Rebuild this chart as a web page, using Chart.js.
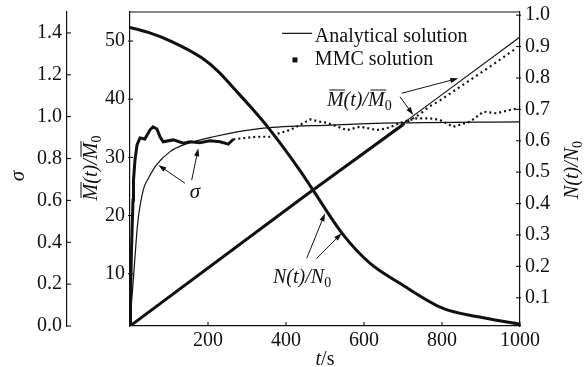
<!DOCTYPE html>
<html><head><meta charset="utf-8">
<script src="https://cdn.jsdelivr.net/npm/chart.js@4"></script>
<style>html,body{margin:0;padding:0;background:#fff;}#wrap{width:584px;height:367px;}</style>
</head><body><div id="wrap"><canvas id="c" width="584" height="367"></canvas></div>
<script>
// ---- tick labels ----
const xTicks = [200, 400, 600, 800, 1000];
const sigmaTicks = [0.0, 0.2, 0.4, 0.6, 0.8, 1.0, 1.2, 1.4];
const mTicks = [10, 20, 30, 40, 50];
const nTicks = [0.1, 0.2, 0.3, 0.4, 0.5, 0.6, 0.7, 0.8, 0.9, 1.0];

// ---- sigma (left outer axis) ----
const sigmaAnaT = [0, 4.4, 8.5, 19.7, 34, 47, 68, 103, 137, 214, 342, 513, 692, 1000];
const sigmaAnaV = [0, 0.124, 0.22, 0.49, 0.65, 0.705, 0.77, 0.833, 0.865, 0.904, 0.945, 0.96, 0.97, 0.975];
const sigmaMmcT = [0, 1.3, 3.8, 7.7, 9, 12.8, 18, 25.6, 38, 51, 59, 69, 77, 85, 111, 137, 154, 179, 205, 231, 252, 265, 290, 325, 359, 376, 410, 427, 462, 487, 504, 521, 556, 590, 633, 658, 701, 735, 769, 795, 829, 872, 906, 940, 974, 996];
const sigmaMmcV = [0, 0.124, 0.363, 0.602, 0.697, 0.793, 0.865, 0.898, 0.893, 0.936, 0.951, 0.941, 0.904, 0.880, 0.889, 0.873, 0.880, 0.876, 0.885, 0.880, 0.869, 0.892, 0.897, 0.904, 0.904, 0.917, 0.936, 0.952, 0.987, 0.976, 0.971, 0.960, 0.936, 0.952, 0.936, 0.944, 0.976, 0.992, 0.992, 0.984, 0.952, 0.976, 1.024, 1.016, 1.032, 1.040];

// ---- mean mass ratio (left inner axis) ----
const mAnaT = [0, 449, 1000];
const mAnaV = [1, 23.4, 50.7];
const mMmcT = [0, 449, 700, 740, 769, 795, 872, 923, 991];
const mMmcV = [1, 23.4, 35.6, 37.3, 38.8, 39.8, 43.3, 45.6, 48.8];

// ---- number ratio (right axis) ----
const nAnaT = [0, 47, 107, 184, 226, 269, 312, 355, 436, 466, 547, 615, 692, 803, 889, 1000];
const nAnaV = [0.961, 0.944, 0.915, 0.863, 0.820, 0.762, 0.703, 0.640, 0.505, 0.449, 0.300, 0.210, 0.146, 0.066, 0.040, 0.016];
const nMmcT = [0, 47, 107, 184, 226, 269, 312, 355, 436, 466, 547, 615, 692, 803, 889, 1000];
const nMmcV = [0.961, 0.945, 0.916, 0.864, 0.821, 0.763, 0.704, 0.641, 0.505, 0.449, 0.300, 0.210, 0.146, 0.066, 0.040, 0.016];

const pts = (T, V) => T.map((t, i) => ({x: t, y: V[i]}));
const INK = '#111';
const SERIF = "'Liberation Serif', 'Times New Roman', serif";

function fixTicks(list) {
  return s => { s.ticks = list.map(v => ({value: v})); };
}
function fitW(w) { return s => { s.width = w; s.paddingTop = 0; s.paddingBottom = 0; s.paddingLeft = 0; s.paddingRight = 0; }; }

const tickFont = {family: SERIF, size: 20};

function arrow(ctx, x1, y1, x2, y2) {
  const a = Math.atan2(y2 - y1, x2 - x1), L = 8, W = 2.6;
  ctx.beginPath(); ctx.moveTo(x1, y1);
  ctx.lineTo(x2 - L * 0.7 * Math.cos(a), y2 - L * 0.7 * Math.sin(a)); ctx.stroke();
  ctx.beginPath(); ctx.moveTo(x2, y2);
  ctx.lineTo(x2 - L * Math.cos(a) + W * Math.sin(a), y2 - L * Math.sin(a) - W * Math.cos(a));
  ctx.lineTo(x2 - L * Math.cos(a) - W * Math.sin(a), y2 - L * Math.sin(a) + W * Math.cos(a));
  ctx.closePath(); ctx.fill();
}

// rich text: parts {t, bar, sub, roman}
function rich(ctx, x, y, parts, size, align) {
  const fIt = `italic ${size}px ${SERIF}`, fRm = `${size}px ${SERIF}`, fSub = `${Math.round(size * 0.72)}px ${SERIF}`;
  const widths = parts.map(p => { ctx.font = p.sub ? fSub : (p.roman ? fRm : fIt); return ctx.measureText(p.t).width; });
  const total = widths.reduce((a, b) => a + b, 0);
  let cx = align === 'center' ? x - total / 2 : x;
  ctx.textAlign = 'left'; ctx.textBaseline = 'alphabetic';
  parts.forEach((p, i) => {
    ctx.font = p.sub ? fSub : (p.roman ? fRm : fIt);
    const yy = p.sub ? y + size * 0.22 : y;
    ctx.fillText(p.t, cx, yy);
    if (p.bar) {
      ctx.lineWidth = 1; ctx.beginPath();
      ctx.moveTo(cx + size * 0.12, y - size * 0.8); ctx.lineTo(cx + widths[i] + size * 0.08, y - size * 0.8); ctx.stroke();
    }
    cx += widths[i];
  });
}
const M_LABEL = [{t: 'M', bar: true}, {t: '(t)/'}, {t: 'M', bar: true}, {t: '0', sub: true}];
const N_LABEL = [{t: 'N(t)/N'}, {t: '0', sub: true}];

const decor = {
  id: 'decor',
  afterDraw(chart) {
    const ctx = chart.ctx, ca = chart.chartArea, sx = chart.scales.x, ss = chart.scales.ys, sm = chart.scales.ym, sn = chart.scales.yn;
    const P = (t, s) => [sx.getPixelForValue(t), ss.getPixelForValue(s)];
    ctx.save();
    ctx.strokeStyle = INK; ctx.fillStyle = INK; ctx.lineWidth = 1.2;
    // top frame line
    ctx.beginPath(); ctx.moveTo(ca.left, ca.top); ctx.lineTo(ca.right, ca.top); ctx.stroke();
    // inward tick marks
    ctx.lineWidth = 1.1;
    sx.ticks.forEach(t => { const p = sx.getPixelForValue(t.value); ctx.beginPath(); ctx.moveTo(p, ca.bottom); ctx.lineTo(p, ca.bottom - 4); ctx.stroke(); });
    ss.ticks.forEach(t => { const p = ss.getPixelForValue(t.value); ctx.beginPath(); ctx.moveTo(ss.right, p); ctx.lineTo(ss.right + 4, p); ctx.stroke(); });
    sm.ticks.forEach(t => { const p = sm.getPixelForValue(t.value); ctx.beginPath(); ctx.moveTo(sm.right - 2, p); ctx.lineTo(sm.right + 3, p); ctx.stroke(); });
    sn.ticks.forEach(t => { const p = sn.getPixelForValue(t.value); ctx.beginPath(); ctx.moveTo(sn.left - 4, p); ctx.lineTo(sn.left + 1, p); ctx.stroke(); });

    // axis titles
    ctx.save(); ctx.translate(ss.left + 24, (ca.top + ca.bottom) / 2 + 7); ctx.rotate(-Math.PI / 2);
    ctx.font = `italic 21px ${SERIF}`; ctx.textAlign = 'center'; ctx.textBaseline = 'alphabetic'; ctx.fillText('σ', 0, 0); ctx.restore();
    ctx.save(); ctx.translate(sm.left + 30, (ca.top + ca.bottom) / 2 - 1); ctx.rotate(-Math.PI / 2);
    rich(ctx, 0, 0, M_LABEL, 20, 'center'); ctx.restore();
    ctx.save(); ctx.translate(sn.right - 6, (ca.top + ca.bottom) / 2 + 1); ctx.rotate(-Math.PI / 2);
    rich(ctx, 0, 0, N_LABEL, 20, 'center'); ctx.restore();
    rich(ctx, (ca.left + ca.right) / 2, chart.height - 2, [{t: 't'}, {t: '/s', roman: true}], 20, 'center');

    // legend
    ctx.lineWidth = 1.2;
    let a = P(390, 1.398), b = P(467, 1.398);
    ctx.beginPath(); ctx.moveTo(a[0], a[1]); ctx.lineTo(b[0], b[1]); ctx.stroke();
    ctx.font = `20px ${SERIF}`; ctx.textAlign = 'left'; ctx.textBaseline = 'alphabetic';
    a = P(474, 1.359); ctx.fillText('Analytical solution', a[0], a[1]);
    a = P(423, 1.271); ctx.fillRect(a[0] - 2.5, a[1] - 2.5, 5, 5);
    a = P(474, 1.247); ctx.fillText('MMC solution', a[0], a[1]);

    // annotations
    ctx.lineWidth = 1;
    a = P(166.7, 0.638); ctx.font = `italic 21px ${SERIF}`; ctx.textAlign = 'center'; ctx.textBaseline = 'middle'; ctx.fillText('σ', a[0], a[1]);
    a = P(141, 0.682); b = P(72.6, 0.769); arrow(ctx, a[0], a[1], b[0], b[1]);
    a = P(158.2, 0.697); b = P(175.1, 0.849); arrow(ctx, a[0], a[1], b[0], b[1]);
    a = P(505, 1.051); rich(ctx, a[0], a[1], M_LABEL, 20, 'left');
    a = P(696.7, 1.112); b = P(841.8, 1.183); arrow(ctx, a[0], a[1], b[0], b[1]);
    a = P(692.3, 1.095); b = P(726.4, 1.008); arrow(ctx, a[0], a[1], b[0], b[1]);
    a = P(366.7, 0.205); rich(ctx, a[0], a[1], N_LABEL, 20, 'left');
    a = P(453, 0.323); b = P(500, 0.538); arrow(ctx, a[0], a[1], b[0], b[1]);
    a = P(478.7, 0.323); b = P(542.8, 0.443); arrow(ctx, a[0], a[1], b[0], b[1]);
    ctx.restore();
  }
};

const ana = {borderColor: INK, borderWidth: 1.2, pointRadius: 0, fill: false, cubicInterpolationMode: 'monotone'};

new Chart(document.getElementById('c'), {
  type: 'line',
  data: {
    datasets: [
      Object.assign({label: 'sigma analytical', data: pts(sigmaAnaT, sigmaAnaV), yAxisID: 'ys'}, ana),
      {label: 'sigma MMC', data: pts(sigmaMmcT, sigmaMmcV), yAxisID: 'ys', borderColor: INK, borderWidth: 2.6, pointRadius: 0, tension: 0,
       segment: {borderDash: c => c.p0.parsed.x >= 255 ? [2, 3] : undefined, borderWidth: c => c.p0.parsed.x >= 255 ? 2.2 : 3}},
      Object.assign({label: 'M analytical', data: pts(mAnaT, mAnaV), yAxisID: 'ym'}, ana),
      {label: 'M MMC', data: pts(mMmcT, mMmcV), yAxisID: 'ym', borderColor: INK, borderWidth: 2.6, pointRadius: 0, tension: 0,
       segment: {borderDash: c => c.p0.parsed.x >= 700 ? [2, 3.5] : undefined, borderWidth: c => c.p0.parsed.x >= 700 ? 2.2 : 3}},
      Object.assign({label: 'N analytical', data: pts(nAnaT, nAnaV), yAxisID: 'yn'}, ana),
      {label: 'N MMC', data: pts(nMmcT, nMmcV), yAxisID: 'yn', borderColor: INK, borderWidth: 3, pointRadius: 0, cubicInterpolationMode: 'monotone'}
    ]
  },
  options: {
    responsive: false, animation: false, devicePixelRatio: 1,
    layout: {padding: {top: 12, left: 0, right: 0, bottom: 0}},
    plugins: {legend: {display: false}, tooltip: {enabled: false}},
    scales: {
      x: {type: 'linear', position: 'bottom', min: 0, max: 1000,
          afterBuildTicks: fixTicks(xTicks), afterFit: s => { s.height = 41; s.paddingLeft = 0; s.paddingRight = 0; },
          grid: {display: false, drawTicks: false}, border: {display: true, color: INK, width: 1.2},
          ticks: {font: tickFont, color: INK, padding: 3, maxRotation: 0, autoSkip: false, callback: v => String(v)}},
      ys: {type: 'linear', position: 'left', weight: 2, min: 0, max: 1.5,
          afterBuildTicks: fixTicks(sigmaTicks), afterFit: fitW(67),
          grid: {display: false, drawTicks: false}, border: {display: true, color: INK, width: 1.2},
          ticks: {font: tickFont, color: INK, padding: 5, autoSkip: false, callback: v => v.toFixed(1)}},
      ym: {type: 'linear', position: 'left', weight: 1, min: 1, max: 55,
          afterBuildTicks: fixTicks(mTicks), afterFit: fitW(63),
          grid: {display: false, drawTicks: false}, border: {display: true, color: INK, width: 1.2},
          ticks: {font: tickFont, color: INK, padding: 5, autoSkip: false, callback: v => String(v)}},
      yn: {type: 'linear', position: 'right', min: 0.01, max: 1.01,
          afterBuildTicks: fixTicks(nTicks), afterFit: fitW(64),
          grid: {display: false, drawTicks: false}, border: {display: true, color: INK, width: 1.2},
          ticks: {font: tickFont, color: INK, padding: 5, autoSkip: false, callback: v => v.toFixed(1)}}
    }
  },
  plugins: [decor]
});
</script></body></html>
